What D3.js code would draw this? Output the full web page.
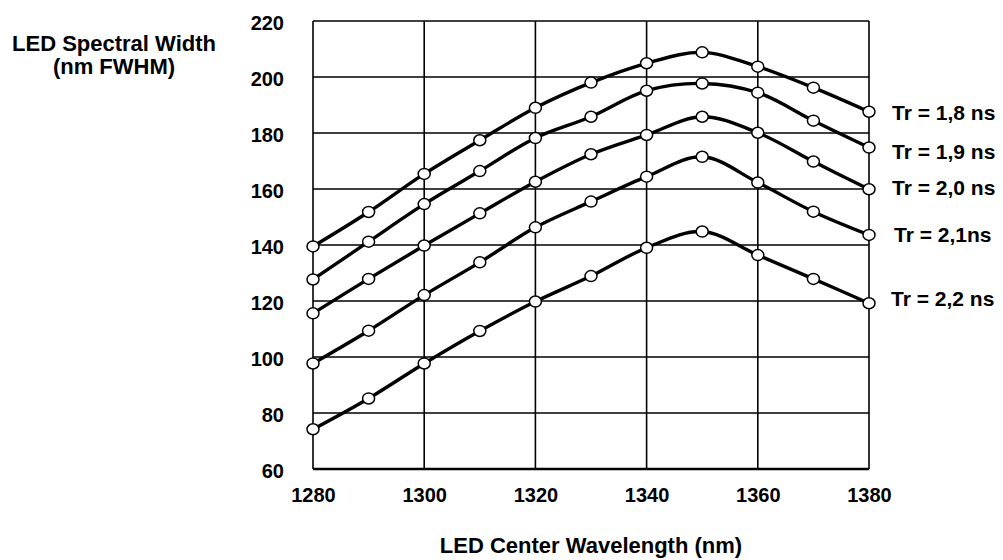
<html>
<head>
<script src="https://d3js.org/d3.v7.min.js"></script>
<style>
    body { margin:0; background:#fff; }
    text { font-family:"Liberation Sans", Arial, sans-serif; font-weight:bold; fill:#000; }
</style>
</head>
<body>
<svg id="plot"></svg>
<script>
// wavelength (nm)
var wavelengths = [1280,1290,1300,1310,1320,1330,1340,1350,1360,1370,1380];

// spectral width per rise time
var tr18 = [139.5,151.8,165.4,177.4,189,198,204.9,208.8,203.7,196.2,187.6];
var tr19 = [127.7,141.2,154.6,166.4,178.2,185.8,195.1,197.7,194.4,184.4,174.8];
var tr20 = [115.6,127.9,139.8,151.3,162.6,172.4,179.3,185.8,180.1,169.8,159.9];
var tr21 = [97.7,109.4,122.1,133.8,146.3,155.5,164.4,171.5,162.3,151.9,143.6];
var tr22 = [74.2,85.2,97.7,109.3,119.8,128.9,139,144.8,136.4,127.9,119.2];

var seriesNames = ["Tr = 1,8 ns","Tr = 1,9 ns","Tr = 2,0 ns","Tr = 2,1ns","Tr = 2,2 ns"];
var seriesValues = [tr18,tr19,tr20,tr21,tr22];

var xTicks = [1280,1300,1320,1340,1360,1380];
var yTicks = [60,80,100,120,140,160,180,200,220];

var screen = {width:1003, height:560};
var margins = {top:21, left:313, right:134, bottom:91};
var graph = {
    width:screen.width-margins.left-margins.right,
    height:screen.height-margins.top-margins.bottom
};

var svg = d3.select("#plot")
    .attr("width",screen.width)
    .attr("height",screen.height);

var xScale = d3.scaleLinear()
    .domain([1280,1380])
    .range([0,graph.width]);

var yScale = d3.scaleLinear()
    .domain([60,220])
    .range([graph.height,0]);

var g = svg.append("g")
    .attr("transform","translate("+margins.left+","+margins.top+")");

// grid
g.selectAll(".vgrid")
    .data(xTicks)
    .enter()
    .append("line")
    .attr("x1",function(d){return xScale(d);})
    .attr("x2",function(d){return xScale(d);})
    .attr("y1",0)
    .attr("y2",graph.height)
    .attr("stroke","#000")
    .attr("stroke-width",1.6);

g.selectAll(".hgrid")
    .data(yTicks)
    .enter()
    .append("line")
    .attr("x1",0)
    .attr("x2",graph.width)
    .attr("y1",function(d){return yScale(d);})
    .attr("y2",function(d){return yScale(d);})
    .attr("stroke","#000")
    .attr("stroke-width",function(d){return d==60 ? 2.4 : 1.6;});

// axes (labels only)
var xAxis = d3.axisBottom(xScale).tickValues(xTicks).tickSize(0).tickPadding(19).tickFormat(d3.format("d"));
var yAxis = d3.axisLeft(yScale).tickValues(yTicks).tickSize(0).tickPadding(29);

var xa = g.append("g")
    .attr("transform","translate(0,"+graph.height+")")
    .call(xAxis);
var ya = g.append("g").call(yAxis);
[xa,ya].forEach(function(a){
    a.select(".domain").remove();
    a.selectAll("text")
        .attr("font-size",20)
        .attr("font-family","Liberation Sans")
        .attr("font-weight","bold")
        .attr("fill","#000");
});
ya.selectAll("text").attr("dy","0.42em");

// lines
var line = d3.line()
    .x(function(d,i){return xScale(wavelengths[i]);})
    .y(function(d){return yScale(d);})
    .curve(d3.curveCatmullRom.alpha(0.5));

seriesValues.forEach(function(vals,k)
{
    g.append("path")
        .datum(vals)
        .attr("d",line)
        .attr("fill","none")
        .attr("stroke","#000")
        .attr("stroke-width",3.4);

    g.selectAll(".pt"+k)
        .data(vals)
        .enter()
        .append("ellipse")
        .attr("cx",function(d,i){return xScale(wavelengths[i]);})
        .attr("cy",function(d){return yScale(d);})
        .attr("rx",6)
        .attr("ry",5.5)
        .attr("fill","#fff")
        .attr("stroke","#000")
        .attr("stroke-width",1.5);
});

// series labels
var labelY = [112,151,187,234,298];
var labelX = [892,892,892,894,891];
seriesNames.forEach(function(name,k)
{
    svg.append("text")
        .attr("x",labelX[k])
        .attr("y",labelY[k])
        .attr("dy","0.36em")
        .attr("font-size",21)
        .text(name);
});

// axis titles
svg.append("text")
    .attr("x",margins.left+graph.width/2)
    .attr("y",553)
    .attr("text-anchor","middle")
    .attr("font-size",22)
    .text("LED Center Wavelength (nm)");

svg.append("text")
    .attr("x",114)
    .attr("y",51)
    .attr("text-anchor","middle")
    .attr("font-size",22)
    .text("LED Spectral Width");

svg.append("text")
    .attr("x",114)
    .attr("y",74)
    .attr("text-anchor","middle")
    .attr("font-size",22)
    .text("(nm FWHM)");
</script>
</body>
</html>
